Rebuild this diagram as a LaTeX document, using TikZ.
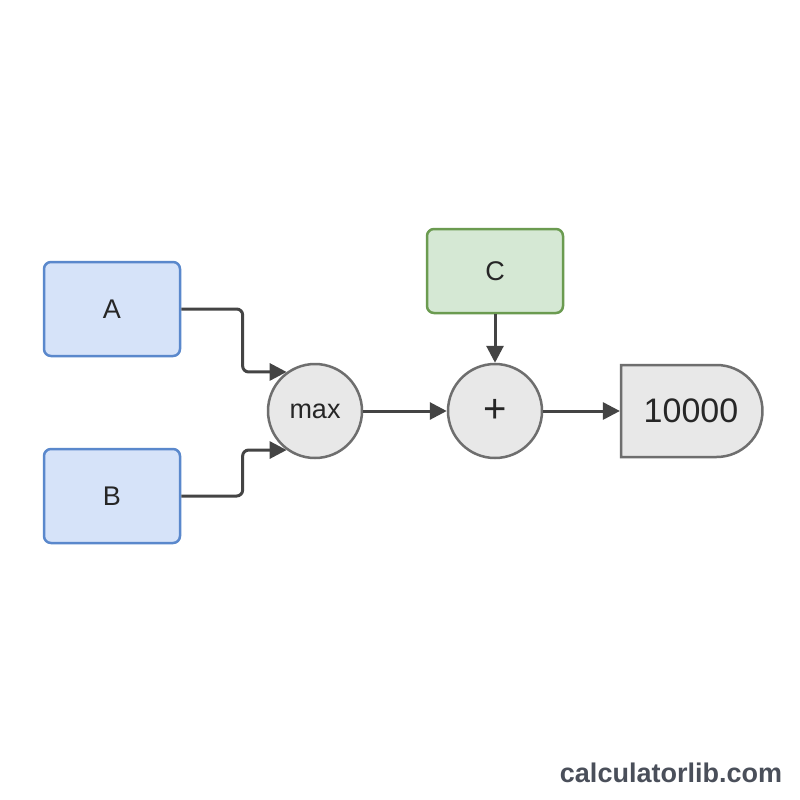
\documentclass[tikz,border=0pt]{standalone}
\usepackage{fontspec}
\setmainfont{Liberation Sans}
\usetikzlibrary{arrows.meta,shapes.misc}
\definecolor{bfill}{HTML}{D6E3F9}
\definecolor{bdraw}{HTML}{5A88CC}
\definecolor{gfill}{HTML}{D5E8D4}
\definecolor{gdraw}{HTML}{6B9B50}
\definecolor{nfill}{HTML}{E8E8E8}
\definecolor{ndraw}{HTML}{6E6E6E}
\definecolor{arrc}{HTML}{444444}
\definecolor{wm}{HTML}{4A4F5A}
\begin{document}
\begin{tikzpicture}[x=1pt,y=-1pt,
  inbox/.style={draw=bdraw,fill=bfill,line width=2.5pt,rounded corners=7pt,minimum width=136pt,minimum height=94pt,font=\fontsize{27}{30}\selectfont,text=black!85},
  cbox/.style={draw=gdraw,fill=gfill,line width=2.5pt,rounded corners=7pt,minimum width=136pt,minimum height=84pt,font=\fontsize{27}{30}\selectfont,text=black!85},
  opnode/.style={circle,draw=ndraw,fill=nfill,line width=2.5pt,minimum size=94pt,inner sep=0pt,font=\fontsize{27}{30}\selectfont,text=black!85},
  outnode/.style={rounded rectangle,rounded rectangle left arc=none,draw=ndraw,fill=nfill,line width=2.5pt,minimum width=148pt,minimum height=92pt,font=\fontsize{34}{40}\selectfont,text=black!85},
  arr/.style={draw=arrc,line width=3pt,-{Triangle[length=17pt,width=17pt]},rounded corners=6pt}]
\useasboundingbox[fill=white] (0,0) rectangle (800,800);
\node[inbox] (A) at (112,309) {A};
\node[inbox] (B) at (112,496) {B};
\node[cbox] (C) at (495,271) {C};
\node[opnode] (mx) at (315,411) {max};
\node[opnode,font=\fontsize{40}{44}\selectfont] (pl) at (495,411) {+};
\node[outnode] (out) at (691,411) {10000};
\draw[arr] (A.east) -| ([xshift=-44pt]mx.126) -- (mx.126);
\draw[arr] (B.east) -| ([xshift=-44pt]mx.234) -- (mx.234);
\draw[arr] (mx.east) -- (pl.west);
\draw[arr] (C.south) -- (pl.north);
\draw[arr] (pl.east) -- (out.west);
\node[font=\bfseries\fontsize{27}{30}\selectfont,text=wm] (wmk) at (671,773) {calculatorlib.com};
\end{tikzpicture}
\end{document}
